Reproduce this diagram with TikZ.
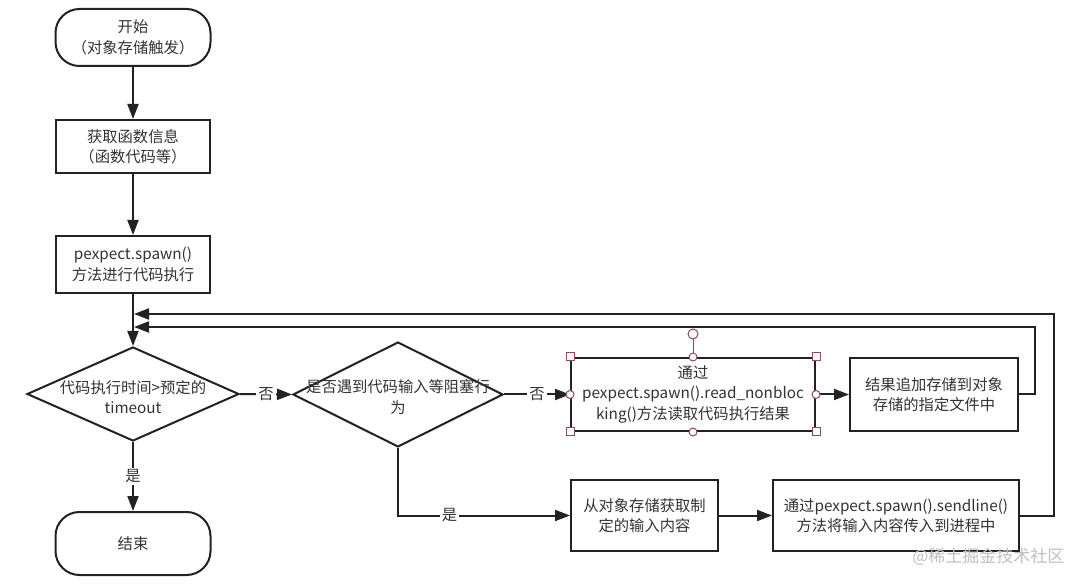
\documentclass[tikz,border=0pt]{standalone}
\usepackage{fontspec}
\setmainfont{Noto Sans CJK SC}
\usetikzlibrary{shapes.geometric,arrows.meta}
\definecolor{lncol}{HTML}{222222}
\definecolor{txcol}{HTML}{333333}
\definecolor{hdcol}{HTML}{8E4A55}
\begin{document}
\begin{tikzpicture}[x=1pt,y=-1pt,
  font=\fontsize{15.3}{20.5}\selectfont,
  proc/.style={draw=lncol,line width=2pt,fill=white,text=txcol,align=center,inner sep=0pt},
  term/.style={proc,rounded corners=24pt},
  dia/.style={draw=lncol,line width=2pt,diamond,inner sep=0pt},
  dtext/.style={text=txcol,align=center,inner sep=0pt},
  lbl/.style={fill=white,text=txcol,inner sep=2pt},
  arr/.style={draw=lncol,line width=2pt,-{Triangle[length=15pt,width=11pt]}},
  hsq/.style={draw=hdcol,fill=white,line width=1pt,minimum size=8pt,inner sep=0pt},
  hci/.style={draw=hdcol,fill=white,line width=1pt,circle,minimum size=8pt,inner sep=0pt},
  hrot/.style={draw=hdcol,fill=white,line width=1pt,circle,minimum size=10pt,inner sep=0pt}]
\useasboundingbox (0,0) rectangle (1080,585);
\fill[white] (0,0) rectangle (1080,585);

\node[term,minimum width=155pt,minimum height=57pt] (start) at (133,37.5) {开始\\（对象存储触发）};
\node[proc,minimum width=154pt,minimum height=53pt] (info) at (133,146.5) {获取函数信息\\（函数代码等）};
\node[proc,minimum width=154pt,minimum height=57pt] (exec) at (133,264.5) {pexpect.spawn()\\方法进行代码执行};
\node[dia,minimum width=212pt,minimum height=94pt] (d1) at (133,394) {};
\node[dtext] (d1t) at (133,397) {代码执行时间>预定的\\timeout};
\node[dia,minimum width=210pt,minimum height=105pt] (d2) at (398,394.5) {};
\node[dtext] (d2t) at (398,397) {是否遇到代码输入等阻塞行\\为};
\node[term,minimum width=155pt,minimum height=63pt] (endn) at (133,543.5) {结束};
\node[proc,minimum width=244pt,minimum height=73pt] (read) at (693,394.5) {通过\\pexpect.spawn().read\_nonbloc\\king()方法读取代码执行结果};
\node[proc,minimum width=168pt,minimum height=73pt] (append) at (934,394.5) {结果追加存储到对象\\存储的指定文件中};
\node[proc,minimum width=147pt,minimum height=71pt] (input) at (644.5,515.5) {从对象存储获取制\\定的输入内容};
\node[proc,minimum width=246pt,minimum height=71pt] (send) at (896,515.5) {通过pexpect.spawn().sendline()\\方法将输入内容传入到进程中};

\coordinate (j1) at (134,314);
\coordinate (j2) at (134,327);

\draw[arr] (start.south) -- (info.north);
\draw[arr] (info.south) -- (exec.north);
\draw[arr] (exec.south) -- (d1.north);
\draw[arr] (d1.east) -- node[lbl]{否} (d2.west);
\draw[arr] (d2.east) -- node[lbl]{否} (read.west);
\draw[arr] (d1.south) -- node[lbl]{是} (endn.north);
\draw[arr] (d2.south) |- node[lbl,pos=0.65]{是} (input.west);
\draw[arr] (read.east) -- (append.west);
\draw[arr] (input.east) -- (send.west);
\draw[arr] (append.east) -- ++(16,0) |- (j2);
\draw[arr] (send.east) -- ++(34,0) |- (j1);

% selection handles
\node[hrot] (rot) at (693,334) {};
\draw[hdcol,line width=1pt] (read.north) -- (rot);
\foreach \a in {north west,north east,south west,south east}
  \node[hsq] at (read.\a) {};
\foreach \a in {north,south,east,west}
  \node[hci] at (read.\a) {};

\node[text=black!25,font=\fontsize{17}{17}\selectfont,anchor=east] (wm) at (1068,557) {@稀土掘金技术社区};
\end{tikzpicture}
\end{document}
